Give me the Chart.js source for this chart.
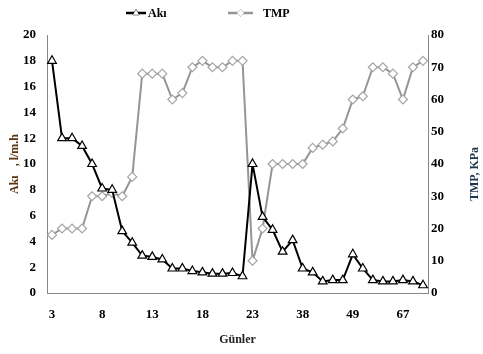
<!DOCTYPE html>
<html>
<head>
<meta charset="utf-8">
<script src="https://cdn.jsdelivr.net/npm/chart.js@4.4.1/dist/chart.umd.min.js"></script>
<style>
  body { margin: 0; background: #fff; }
</style>
</head>
<body>
<canvas id="chart" width="483" height="354"></canvas>
<script>
// Data
const days = [3, 4, 5, 6, 7, 8, 9, 10, 11, 12, 13, 14, 15, 16, 17, 18, 19, 20, 21, 22,
              23, 26, 29, 32, 35, 38, 40, 42, 45, 47, 49, 52, 56, 60, 63, 67, 69, 71];

const akiData = [18, 12, 12, 11.4, 10, 8.1, 8, 4.8, 3.9, 2.9, 2.8, 2.6, 1.9, 1.9, 1.7, 1.6, 1.5, 1.5, 1.55, 1.3,
                 10, 5.9, 4.9, 3.2, 4.1, 1.9, 1.6, 0.9, 1.0, 1.0, 3.0, 1.9, 1.0, 0.9, 0.9, 1.0, 0.9, 0.6];

const tmpData = [18, 20, 20, 20, 30, 30, 31, 30, 36, 68, 68, 68, 60, 62, 70, 72, 70, 70, 72, 72,
                 10, 20, 40, 40, 40, 40, 45, 46, 47, 51, 60, 61, 70, 70, 68, 60, 70, 72];

const serif = "'Liberation Serif', 'Times New Roman', serif";
const grey = "#959595";

// legend drawn by hand (line with the marker in the middle), plus the
// right axis title which reads bottom-to-top in the original
const extrasPlugin = {
    id: "extras",
    afterDraw(chart) {
        const ctx = chart.ctx;
        const items = [
            { text: "Akı", color: "#000", style: "triangle", x0: 126, x1: 146, tx: 148 },
            { text: "TMP", color: grey, style: "rectRot", x0: 228, x1: 253, tx: 263 }
        ];
        const y = 13;
        ctx.save();
        items.forEach(it => {
            ctx.strokeStyle = it.color;
            ctx.lineWidth = 2.5;
            ctx.beginPath();
            ctx.moveTo(it.x0, y);
            ctx.lineTo(it.x1, y);
            ctx.stroke();
            ctx.fillStyle = "#fff";
            ctx.lineWidth = 1;
            Chart.helpers.drawPoint(ctx, { pointStyle: it.style, radius: 3.5, borderWidth: 1 }, (it.x0 + it.x1) / 2, y);
            ctx.fill();
            ctx.fillStyle = "#000";
            ctx.font = "bold 12px " + serif;
            ctx.textBaseline = "middle";
            ctx.textAlign = "left";
            ctx.fillText(it.text, it.tx, y + 1);
        });

        const area = chart.chartArea;
        ctx.translate(475, (area.top + area.bottom) / 2 + 10);
        ctx.rotate(-Math.PI / 2);
        ctx.fillStyle = "#1c3550";
        ctx.font = "bold 12px " + serif;
        ctx.textAlign = "center";
        ctx.textBaseline = "middle";
        ctx.fillText("TMP, KPa", 0, 0);
        ctx.restore();
    }
};

new Chart(document.getElementById("chart"), {
    type: "line",
    data: {
        labels: days,
        datasets: [{
            label: "Akı",
            data: akiData,
            yAxisID: "y",
            order: 0,
            borderColor: "#000",
            borderWidth: 2,
            pointStyle: "triangle",
            pointRadius: 5,
            pointBackgroundColor: "#fff",
            pointBorderColor: "#000",
            pointBorderWidth: 1.2,
            tension: 0
        }, {
            label: "TMP",
            data: tmpData,
            yAxisID: "y1",
            order: 1,
            borderColor: grey,
            borderWidth: 2,
            pointStyle: "rectRot",
            pointRadius: 4.5,
            pointBackgroundColor: "#fff",
            pointBorderColor: "#a5a5a5",
            pointBorderWidth: 1.2,
            tension: 0
        }]
    },
    options: {
        responsive: false,
        animation: false,
        layout: { padding: { top: 35, left: 0, right: 0, bottom: 0 } },
        plugins: {
            legend: { display: false },
            tooltip: { enabled: false }
        },
        scales: {
            x: {
                type: "category",
                offset: true,
                grid: { display: false, drawTicks: false },
                border: { color: "#888", width: 1 },
                ticks: {
                    autoSkip: false,
                    maxRotation: 0,
                    padding: 14,
                    color: "#000",
                    font: { family: serif, size: 13, weight: "bold" },
                    callback: function (val, i) {
                        return i % 5 === 0 ? this.getLabelForValue(val) : "";
                    }
                },
                title: {
                    display: true,
                    text: "Günler",
                    color: "#222",
                    font: { family: serif, size: 12, weight: "bold" },
                    padding: { top: 0, bottom: 7 }
                },
                afterFit: s => { s.height = 61; }
            },
            y: {
                position: "left",
                min: 0,
                max: 20,
                grid: { display: false, drawTicks: false },
                border: { color: "#888", width: 1 },
                ticks: {
                    stepSize: 2,
                    padding: 11,
                    color: "#000",
                    font: { family: serif, size: 13, weight: "bold" }
                },
                title: {
                    display: true,
                    text: "Akı   , l/m.h",
                    color: "#5a3510",
                    font: { family: serif, size: 12, weight: "bold" },
                    padding: { top: 8, bottom: 0 }
                },
                afterFit: s => { s.width = 47; }
            },
            y1: {
                position: "right",
                min: 0,
                max: 80,
                grid: { display: false, drawTicks: false },
                border: { color: "#888", width: 1 },
                ticks: {
                    stepSize: 10,
                    padding: 3,
                    color: "#000",
                    font: { family: serif, size: 13, weight: "bold" }
                },
                afterFit: s => { s.width = 55; }
            }
        }
    },
    plugins: [extrasPlugin]
});
</script>
</body>
</html>
